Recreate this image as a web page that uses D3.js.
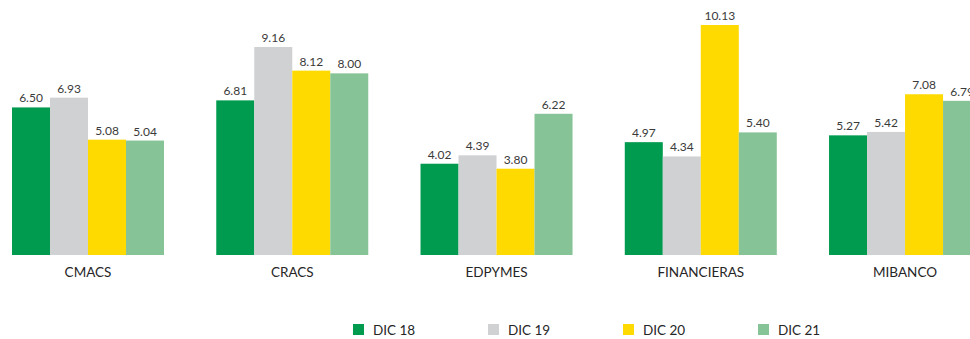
<!DOCTYPE html>
<html>
<head>
<meta charset="utf-8">
<script src="https://cdn.jsdelivr.net/npm/d3@7"></script>
<style>
  body { margin: 0; background: #fff; }
  svg { display: block; font-family: Lato, "Open Sans", sans-serif; }
</style>
</head>
<body>
<div id="chart"></div>
<script>
// data
var categories = ["CMACS", "CRACS", "EDPYMES", "FINANCIERAS", "MIBANCO"];
var seriesNames = ["DIC 18", "DIC 19", "DIC 20", "DIC 21"];
var dic18 = [6.50, 6.81, 4.02, 4.97, 5.27];
var dic19 = [6.93, 9.16, 4.39, 4.34, 5.42];
var dic20 = [5.08, 8.12, 3.80, 10.13, 7.08];
var dic21 = [5.04, 8.00, 6.22, 5.40, 6.79];
var colors = ["#009b4e", "#d0d1d3", "#ffda00", "#86c396"];

var seriesValues = [dic18, dic19, dic20, dic21];

var width = 970, height = 339;

var svg = d3.select("#chart")
  .append("svg")
  .attr("width", width)
  .attr("height", height);

// outer band per category (chart runs past the right edge like the original)
var x0 = d3.scaleBand()
  .domain(categories)
  .range([-40.25, 1033.3])
  .paddingInner(0.2558)
  .paddingOuter(0.2558);

var x1 = d3.scaleBand()
  .domain(seriesNames)
  .range([0, x0.bandwidth()]);

var y = d3.scaleLinear()
  .domain([0, 10.13])
  .range([255, 25]);

var groups = svg.append("g")
  .selectAll("g")
  .data(categories)
  .enter()
  .append("g")
  .attr("transform", function (d) {
    return "translate(" + x0(d) + ",0)";
  });

groups.selectAll("rect")
  .data(function (c, i) {
    return seriesNames.map(function (s, j) {
      return { series: s, value: seriesValues[j][i], color: colors[j] };
    });
  })
  .enter()
  .append("rect")
  .attr("x", function (d) { return x1(d.series); })
  .attr("width", x1.bandwidth())
  .attr("y", function (d) { return y(d.value); })
  .attr("height", function (d) { return y(0) - y(d.value); })
  .attr("fill", function (d) { return d.color; });

// value labels
groups.selectAll("text.val")
  .data(function (c, i) {
    return seriesNames.map(function (s, j) {
      return { series: s, value: seriesValues[j][i] };
    });
  })
  .enter()
  .append("text")
  .attr("class", "val")
  .attr("x", function (d) { return x1(d.series) + x1.bandwidth() / 2; })
  .attr("y", function (d) { return y(d.value) - 5; })
  .attr("text-anchor", "middle")
  .style("font-size", "12px")
  .attr("fill", "#3a3a3a")
  .text(function (d) { return d.value.toFixed(2); });

// category axis
var xAxis = d3.axisBottom(x0).tickSize(0).tickPadding(12);
var axisG = svg.append("g")
  .attr("transform", "translate(0," + y(0) + ")")
  .call(xAxis);
axisG.select(".domain").remove();
axisG.selectAll("text")
  .style("font-size", "13.5px")
  .style("font-family", "Lato, 'Open Sans', sans-serif")
  .attr("fill", "#262626");

// legend
var legend = svg.append("g")
  .selectAll("g")
  .data(seriesNames)
  .enter()
  .append("g")
  .attr("transform", function (d, i) {
    return "translate(" + (353 + i * 135) + ",324)";
  });

legend.append("rect")
  .attr("width", 11)
  .attr("height", 11)
  .attr("fill", function (d, i) { return colors[i]; });

legend.append("text")
  .attr("x", 20)
  .attr("y", 6)
  .attr("dy", "0.35em")
  .style("font-size", "13.5px")
  .attr("fill", "#262626")
  .text(function (d) { return d; });
</script>
</body>
</html>
